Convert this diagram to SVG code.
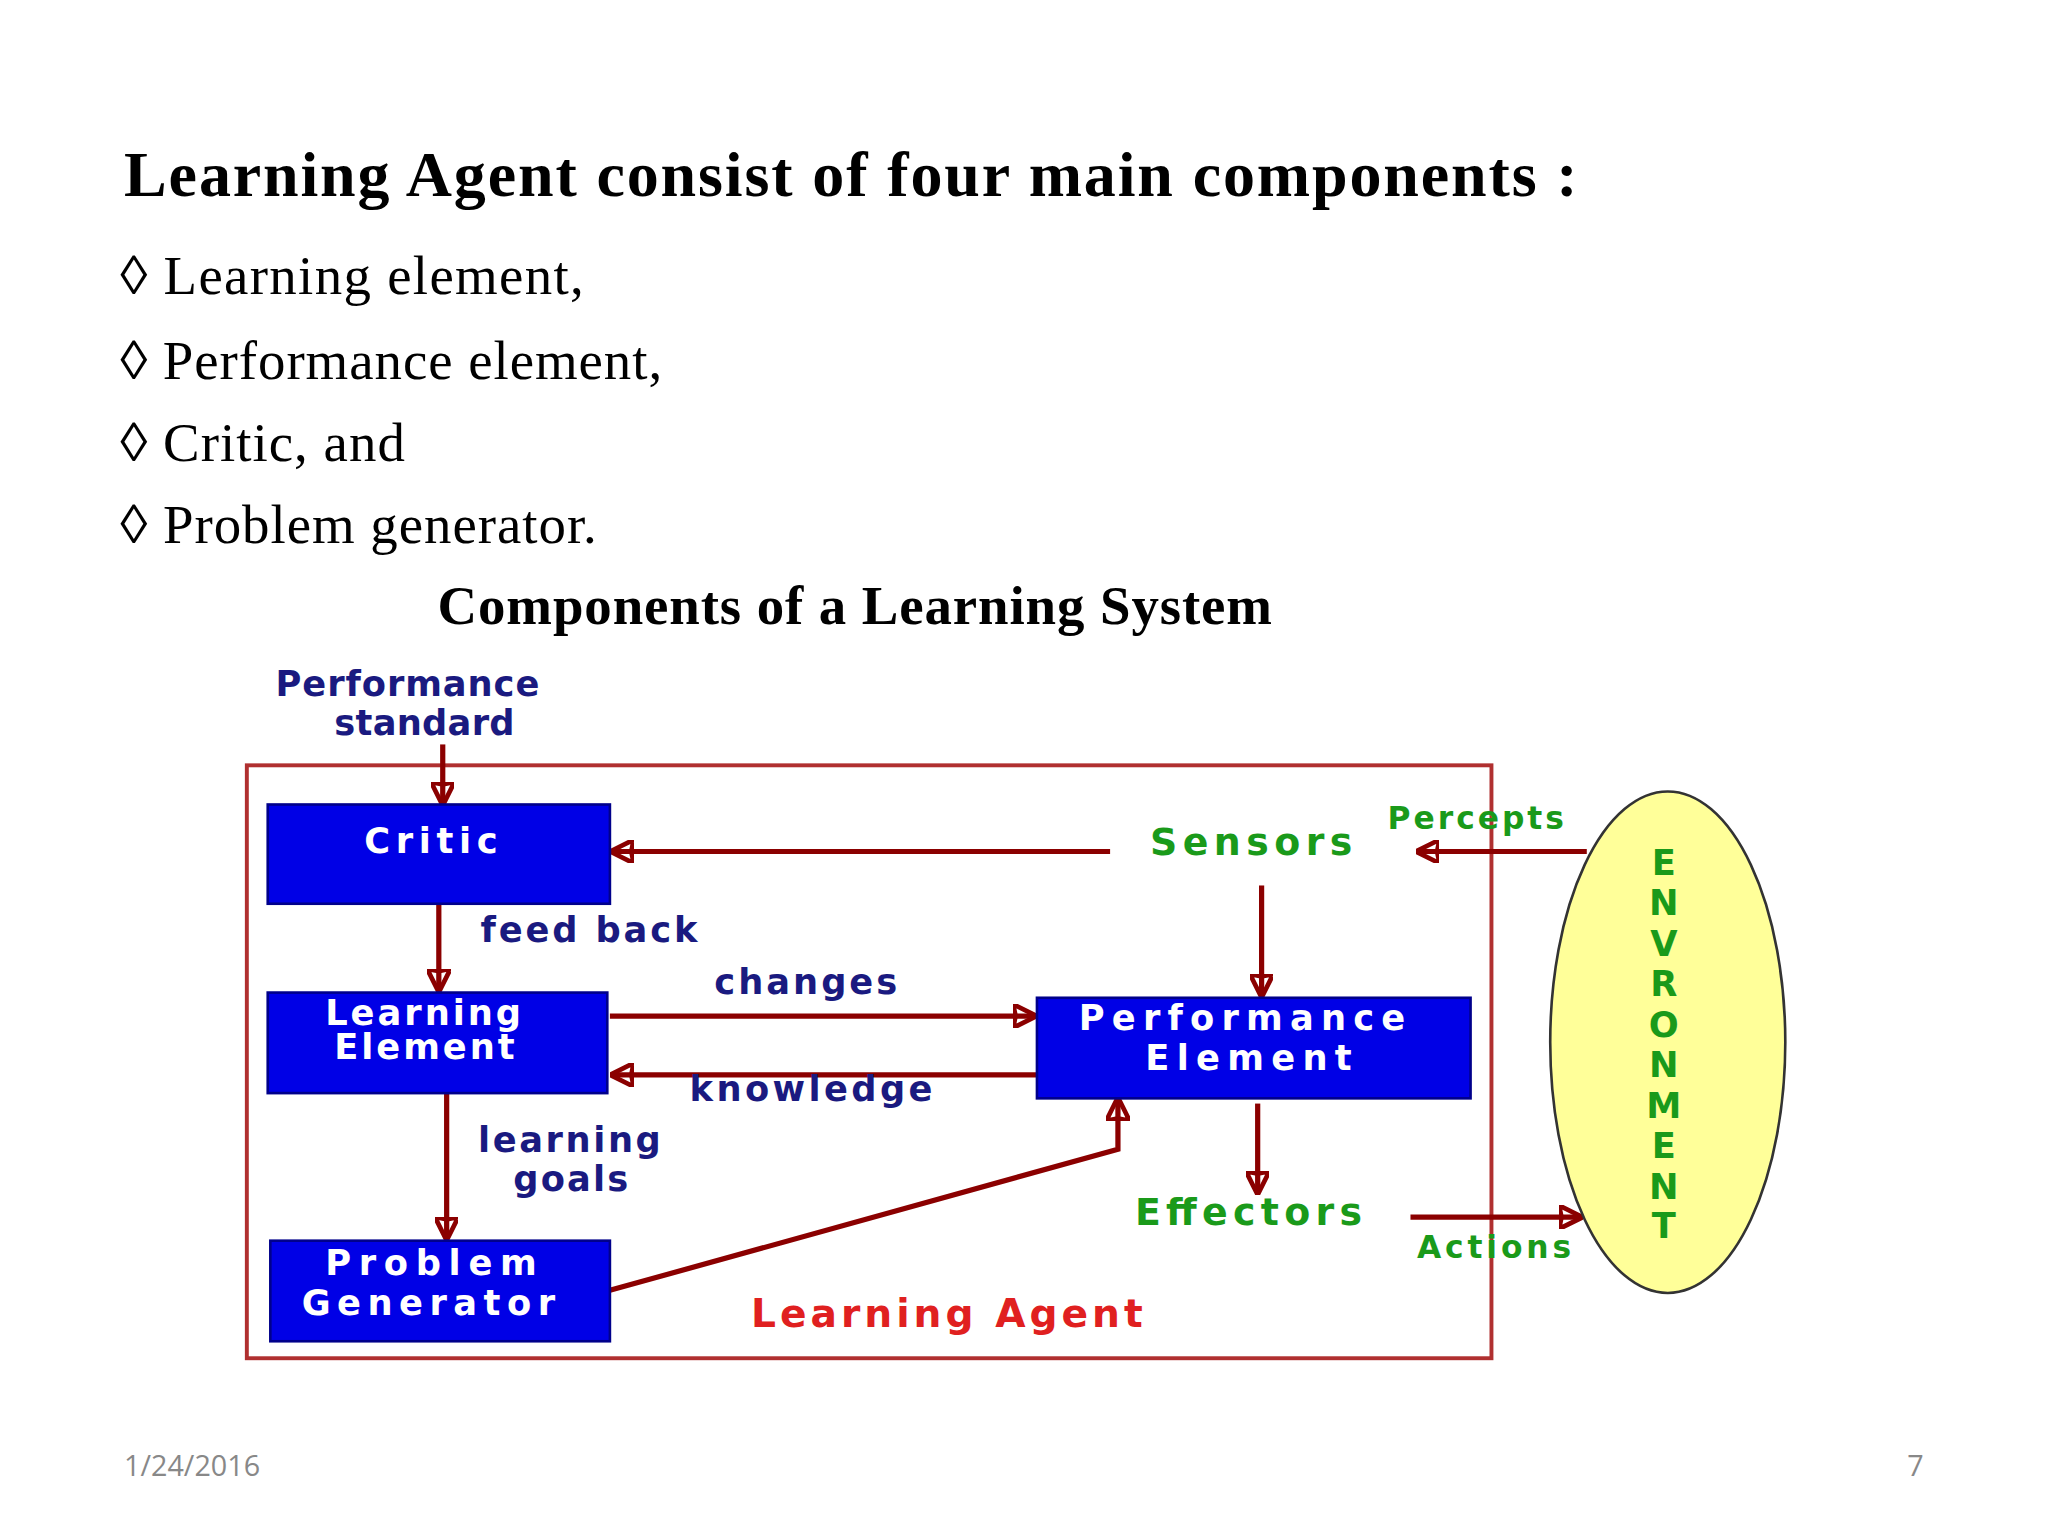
<svg xmlns="http://www.w3.org/2000/svg" width="2048" height="1536" viewBox="0 0 2048 1536">
<defs>
<marker id="ah" viewBox="0 0 10 10" refX="9" refY="5" markerWidth="18" markerHeight="18" orient="auto" markerUnits="userSpaceOnUse"><path d="M0,0 L10,5 L0,10 L1,5 Z" fill="none" stroke="#8b0000" stroke-width="2"/></marker>
<style>
.s{font-family:"Liberation Serif",serif;fill:#000}
.d{font-family:"DejaVu Sans",sans-serif;font-weight:bold}
.w{fill:#fff;font-size:27px}
.n{fill:#1a1a80;font-size:27px}
.g{fill:#1a9a1a}
.box{fill:#0000e6;stroke:#00008b;stroke-width:2}
.c{stroke:#8b0000;stroke-width:4;fill:none;marker-end:url(#ah)}
</style>
</defs>
<rect width="2048" height="1536" fill="#fff"/>
<g transform="scale(1.306)">
<text class="s" x="95" y="150" font-size="49" font-weight="bold" textLength="1113">Learning Agent consist of four main components :</text>
<text class="s" x="92" y="225" font-size="42" textLength="355">◊ Learning element,</text>
<text class="s" x="92" y="290" font-size="42" textLength="415">◊ Performance element,</text>
<text class="s" x="92" y="353" font-size="42" textLength="218">◊ Critic, and</text>
<text class="s" x="92" y="416" font-size="42" textLength="365">◊ Problem generator.</text>
<text class="s" x="335" y="478" font-size="42" font-weight="bold" textLength="639">Components of a Learning System</text>
<rect x="189" y="586" width="953" height="454" fill="none" stroke="#b03030" stroke-width="3"/>
<g id="connectors">
<path class="c" d="M339,570 V615"/>
<path class="c" d="M850,652 H469"/>
<path class="c" d="M336,692 V758"/>
<path class="c" d="M966,678 V762"/>
<path class="c" d="M467,778 H792"/>
<path class="c" d="M794,823 H469"/>
<path class="c" d="M342,837 V948"/>
<path class="c" d="M467,988 L856,880 V842"/>
<path class="c" d="M963,845 V913"/>
<path class="c" d="M1215,652 H1086"/>
<path class="c" d="M1080,932 H1210"/>
</g>
<g id="perfstd"><text class="d n" x="312" y="533" text-anchor="middle" textLength="202">Performance</text><text class="d n" x="325" y="563" text-anchor="middle" textLength="138">standard</text></g>
<g id="critic"><rect class="box" x="205" y="616" width="262" height="76"/><text class="d w" x="330" y="653" text-anchor="middle" textLength="102" font-size="29">Critic</text></g>
<g id="learning"><rect class="box" x="205" y="760" width="260" height="77"/><text class="d w" x="324" y="785" text-anchor="middle" textLength="150" font-size="24">Learning</text><text class="d w" x="325" y="811" text-anchor="middle" textLength="138" font-size="24">Element</text></g>
<g id="problem"><rect class="box" x="207" y="950" width="260" height="77"/><text class="d w" x="330" y="976" text-anchor="middle" textLength="162">Problem</text><text class="d w" x="328" y="1007" text-anchor="middle" textLength="194">Generator</text></g>
<g id="perf"><rect class="box" x="794" y="764" width="332" height="77"/><text class="d w" x="951" y="789" text-anchor="middle" textLength="250">Performance</text><text class="d w" x="956" y="819" text-anchor="middle" textLength="158">Element</text></g>
<g id="env"><ellipse cx="1277" cy="798" rx="90" ry="192" fill="#ffff99" stroke="#333" stroke-width="2"/>
<text class="d g" font-size="27" text-anchor="middle" x="1274"><tspan x="1274" y="670">E</tspan><tspan x="1274" y="701">N</tspan><tspan x="1274" y="732">V</tspan><tspan x="1274" y="763">R</tspan><tspan x="1274" y="794">O</tspan><tspan x="1274" y="825">N</tspan><tspan x="1274" y="856">M</tspan><tspan x="1274" y="887">E</tspan><tspan x="1274" y="918">N</tspan><tspan x="1274" y="948">T</tspan></text></g>
<text class="d n" x="368" y="721" textLength="166">feed back</text>
<text class="d n" x="547" y="761" textLength="140">changes</text>
<text class="d n" x="528" y="843" textLength="186">knowledge</text>
<text class="d n" x="436" y="882" text-anchor="middle" textLength="140">learning</text>
<text class="d n" x="437" y="912" text-anchor="middle" textLength="88">goals</text>
<text class="d g" x="958" y="655" font-size="29" text-anchor="middle" textLength="155">Sensors</text>
<text class="d g" x="956" y="938" font-size="29" text-anchor="middle" textLength="174">Effectors</text>
<text class="d g" x="1130" y="635" font-size="24" text-anchor="middle" textLength="135">Percepts</text>
<text class="d g" x="1144" y="963" font-size="24" text-anchor="middle" textLength="118">Actions</text>
<text class="d" x="725" y="1016" font-size="30" fill="#e02020" text-anchor="middle" textLength="300">Learning Agent</text>
<text x="95" y="1130" font-family="'Open Sans',sans-serif" font-size="22" fill="#888">1/24/2016</text>
<text x="1473" y="1130" font-family="'Open Sans',sans-serif" font-size="22" fill="#888" text-anchor="end">7</text>
</g>
</svg>
